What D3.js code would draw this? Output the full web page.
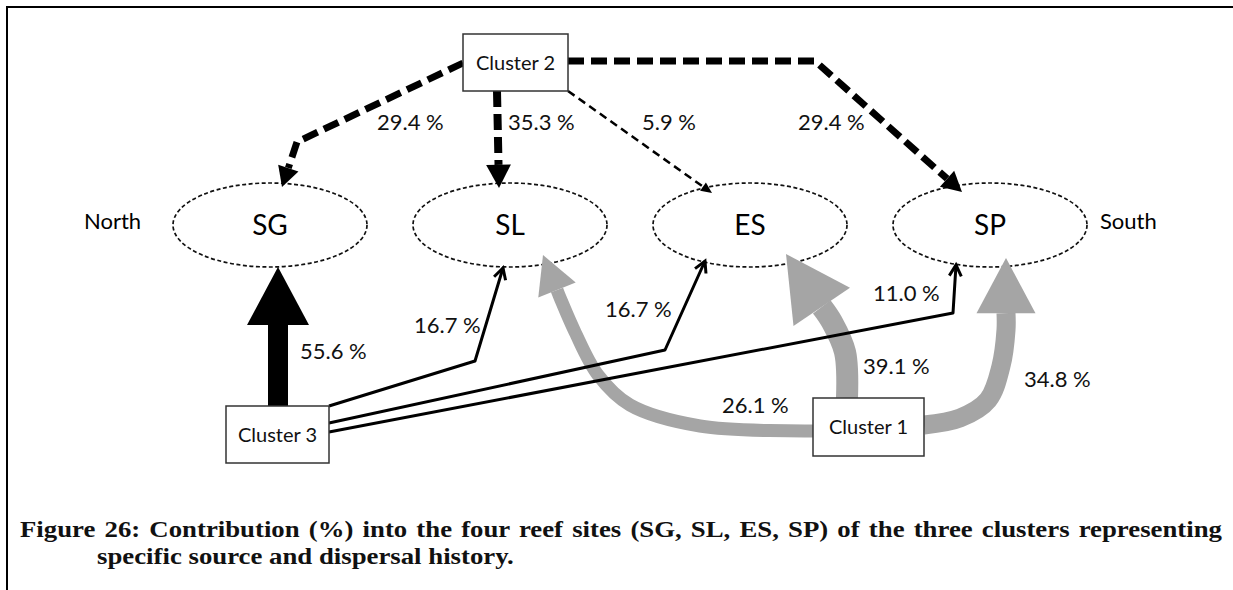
<!DOCTYPE html>
<html>
<head>
<meta charset="utf-8">
<title>Figure 26</title>
<style>
  body { margin: 0; background: #fff; }
  svg { display: block; }
</style>
</head>
<body>
<script src="https://cdn.jsdelivr.net/npm/d3@7"></script>
<script>
var width = 1233, height = 590;

// reef sites, north to south
var sites = ["SG", "SL", "ES", "SP"];
var clusters = ["Cluster 1", "Cluster 2", "Cluster 3"];
// contribution (%) of each cluster into each site, in the order of sites (null = no link)
var cluster1 = [null, 26.1, 39.1, 34.8];
var cluster2 = [29.4, 35.3, 5.9, 29.4];
var cluster3 = [55.6, 16.7, 16.7, 11.0];
var compass = ["North", "South"];
var caption = [
  "Figure 26: Contribution (%) into the four reef sites (SG, SL, ES, SP) of the three clusters representing",
  "specific source and dispersal history."
];

// ---- layout ----
var siteY = 225, rx = 97, ry = 42;
var x = d3.scalePoint().domain(sites).range([270, 990]);

var boxes = {
  "Cluster 1": {x: 813, y: 398, w: 111, h: 58},
  "Cluster 2": {x: 463, y: 34, w: 105, h: 57},
  "Cluster 3": {x: 226, y: 406, w: 103, h: 57}
};

// route of each link: waypoints, tip offset from site centre, label anchor
var routes = {
  "Cluster 2>SG": {via: [[463, 63], [297, 142]], tip: [12, -38], label: [377, 130]},
  "Cluster 2>SL": {via: [[497, 91]], tip: [-11, -37], label: [508, 130]},
  "Cluster 2>ES": {via: [[568, 91]], tip: [-38, -32], label: [642, 130]},
  "Cluster 2>SP": {via: [[568, 61], [815, 61]], tip: [-28, -33], label: [798, 130]},
  "Cluster 3>SG": {via: [[278, 406]], tip: [8, 42], label: [300, 359]},
  "Cluster 3>SL": {via: [[329, 406], [475, 361]], tip: [-7, 43], label: [414, 333]},
  "Cluster 3>ES": {via: [[329, 423], [665, 350]], tip: [-45, 36], label: [605, 317]},
  "Cluster 3>SP": {via: [[329, 432], [953, 313]], tip: [-34, 40], label: [873, 301]},
  "Cluster 1>SL": {via: [[813, 431], [700, 426], [630, 405], [598, 375], [575, 332], [561, 300]], tip: [33, 30], label: [722, 413]},
  "Cluster 1>ES": {via: [[847, 398], [845, 352], [832, 322]], tip: [36, 29], label: [863, 374]},
  "Cluster 1>SP": {via: [[924, 425], [960, 418], [988, 400], [1001, 366], [1006, 330]], tip: [16, 33], label: [1024, 387]}
};

var style = {
  "Cluster 1": {color: "#a5a5a5", dashed: false, curve: d3.curveCatmullRom,
                width: d3.scaleLinear().domain([26.1, 39.1]).range([13, 22])},
  "Cluster 2": {color: "#000", dashed: true, curve: d3.curveLinear,
                width: d3.scaleLinear().domain([5.9, 35.3]).range([2.5, 8])},
  "Cluster 3": {color: "#000", dashed: false, curve: d3.curveLinear,
                width: d3.scaleLinear().domain([16.7, 55.6]).range([3, 20]).clamp(true)}
};

var values = {"Cluster 1": cluster1, "Cluster 2": cluster2, "Cluster 3": cluster3};
var links = [];
clusters.forEach(function(c) {
  values[c].forEach(function(v, i) {
    if (v != null) links.push({source: c, target: sites[i], value: v});
  });
});

var svg = d3.select("body").append("svg")
  .attr("width", width)
  .attr("height", height);

// frame
svg.append("path")
  .attr("d", "M7," + height + "V7H" + width)
  .attr("fill", "none")
  .attr("stroke", "#000")
  .attr("stroke-width", 2);

// sites
svg.selectAll("ellipse.site")
  .data(sites)
  .enter().append("ellipse")
  .attr("class", "site")
  .attr("cx", function(d) { return x(d); })
  .attr("cy", siteY)
  .attr("rx", rx)
  .attr("ry", ry)
  .attr("fill", "none")
  .attr("stroke", "#111")
  .attr("stroke-width", 1.7)
  .attr("stroke-dasharray", "4,2.5");

svg.selectAll("text.site")
  .data(sites)
  .enter().append("text")
  .attr("class", "site")
  .attr("x", function(d) { return x(d); })
  .attr("y", siteY + 10)
  .attr("text-anchor", "middle")
  .style("font-family", "Lato, sans-serif")
  .style("font-size", "28px")
  .text(function(d) { return d; });

svg.selectAll("text.compass")
  .data(compass)
  .enter().append("text")
  .attr("class", "compass")
  .attr("x", function(d, i) { return i == 0 ? x(sites[0]) - rx - 89 : x(sites[sites.length - 1]) + rx + 13; })
  .attr("y", siteY + 4)
  .style("font-family", "Lato, sans-serif")
  .style("font-size", "22px")
  .text(function(d) { return d; });

// links
function unit(a, b) {
  var dx = b[0] - a[0], dy = b[1] - a[1], l = Math.hypot(dx, dy);
  return [dx / l, dy / l];
}

var geo = links.map(function(d) {
  var r = routes[d.source + ">" + d.target];
  var s = style[d.source];
  var w = s.width(d.value);
  var tip = [x(d.target) + r.tip[0], siteY + r.tip[1]];
  var last = r.via[r.via.length - 1];
  var u = unit(last, tip);
  var open = !s.dashed && w < 5;
  var L = open ? 0 : Math.max(2.9 * w, 11), W = Math.max(3.1 * w, 10);
  var base = [tip[0] - u[0] * L, tip[1] - u[1] * L];
  var px = -u[1], py = u[0];
  var head;
  if (open) {
    var b2 = [tip[0] - u[0] * 11, tip[1] - u[1] * 11];
    head = [[b2[0] + px * 6, b2[1] + py * 6], tip, [b2[0] - px * 6, b2[1] - py * 6]];
  } else {
    head = [tip, [base[0] + px * W / 2, base[1] + py * W / 2], [base[0] - px * W / 2, base[1] - py * W / 2]];
  }
  return {d: d, s: s, w: w, pts: r.via.concat([base]), head: head, open: open, label: r.label};
});

var order = ["Cluster 1", "Cluster 3", "Cluster 2"];
geo.sort(function(a, b) { return order.indexOf(a.d.source) - order.indexOf(b.d.source); });

var g = svg.selectAll("g.link")
  .data(geo)
  .enter().append("g")
  .attr("class", "link");

g.append("path")
  .attr("d", function(e) { return d3.line().curve(e.s.curve)(e.pts); })
  .attr("fill", "none")
  .attr("stroke", function(e) { return e.s.color; })
  .attr("stroke-width", function(e) { return e.w; })
  .attr("stroke-linejoin", function(e) { return e.s.dashed ? "miter" : "round"; })
  .attr("stroke-dasharray", function(e) { return e.s.dashed ? (e.w > 4 ? "16,7" : "8,5") : null; });

g.append("path")
  .attr("d", function(e) { return d3.line()(e.head) + (e.open ? "" : "Z"); })
  .attr("fill", function(e) { return e.open ? "none" : e.s.color; })
  .attr("stroke", function(e) { return e.open ? e.s.color : "none"; })
  .attr("stroke-width", function(e) { return e.open ? e.w : 0; })
  .attr("stroke-linejoin", "miter");

svg.selectAll("text.value")
  .data(geo)
  .enter().append("text")
  .attr("class", "value")
  .attr("x", function(e) { return e.label[0]; })
  .attr("y", function(e) { return e.label[1]; })
  .style("font-family", "Lato, sans-serif")
  .style("font-size", "22px")
  .style("fill", "#111")
  .text(function(e) { return d3.format(".1f")(e.d.value) + " %"; });

// cluster boxes
var bx = svg.selectAll("g.cluster")
  .data(clusters)
  .enter().append("g")
  .attr("class", "cluster");

bx.append("rect")
  .attr("x", function(c) { return boxes[c].x; })
  .attr("y", function(c) { return boxes[c].y; })
  .attr("width", function(c) { return boxes[c].w; })
  .attr("height", function(c) { return boxes[c].h; })
  .attr("fill", "#fff")
  .attr("stroke", "#333")
  .attr("stroke-width", 1.5);

bx.append("text")
  .attr("x", function(c) { return boxes[c].x + boxes[c].w / 2; })
  .attr("y", function(c) { return boxes[c].y + boxes[c].h / 2 + 7; })
  .attr("text-anchor", "middle")
  .style("font-family", "Lato, sans-serif")
  .style("font-size", "20px")
  .style("fill", "#111")
  .text(function(c) { return c; });

// caption: glyphs widened to the original's wider serif, first line justified
var capX = [20, 97], capRight = 1222, line2Right = 514;
var cap = svg.selectAll("text.caption")
  .data(caption)
  .enter().append("text")
  .attr("class", "caption")
  .attr("x", 0)
  .attr("y", 0)
  .style("font-family", "'Liberation Serif', serif")
  .style("font-weight", "bold")
  .style("font-size", "23.5px")
  .style("fill", "#111")
  .text(function(d) { return d; });

var nodes = cap.nodes();
var k = (line2Right - capX[1]) / nodes[1].getComputedTextLength();
cap.attr("transform", function(d, i) {
  return "translate(" + capX[i] + "," + (537 + i * 27) + ") scale(" + k + ",1)";
});
var natural = nodes[0].getComputedTextLength();
var gaps = caption[0].split(" ").length - 1;
d3.select(nodes[0]).style("word-spacing", ((capRight - capX[0]) / k - natural) / gaps + "px");
</script>
</body>
</html>
